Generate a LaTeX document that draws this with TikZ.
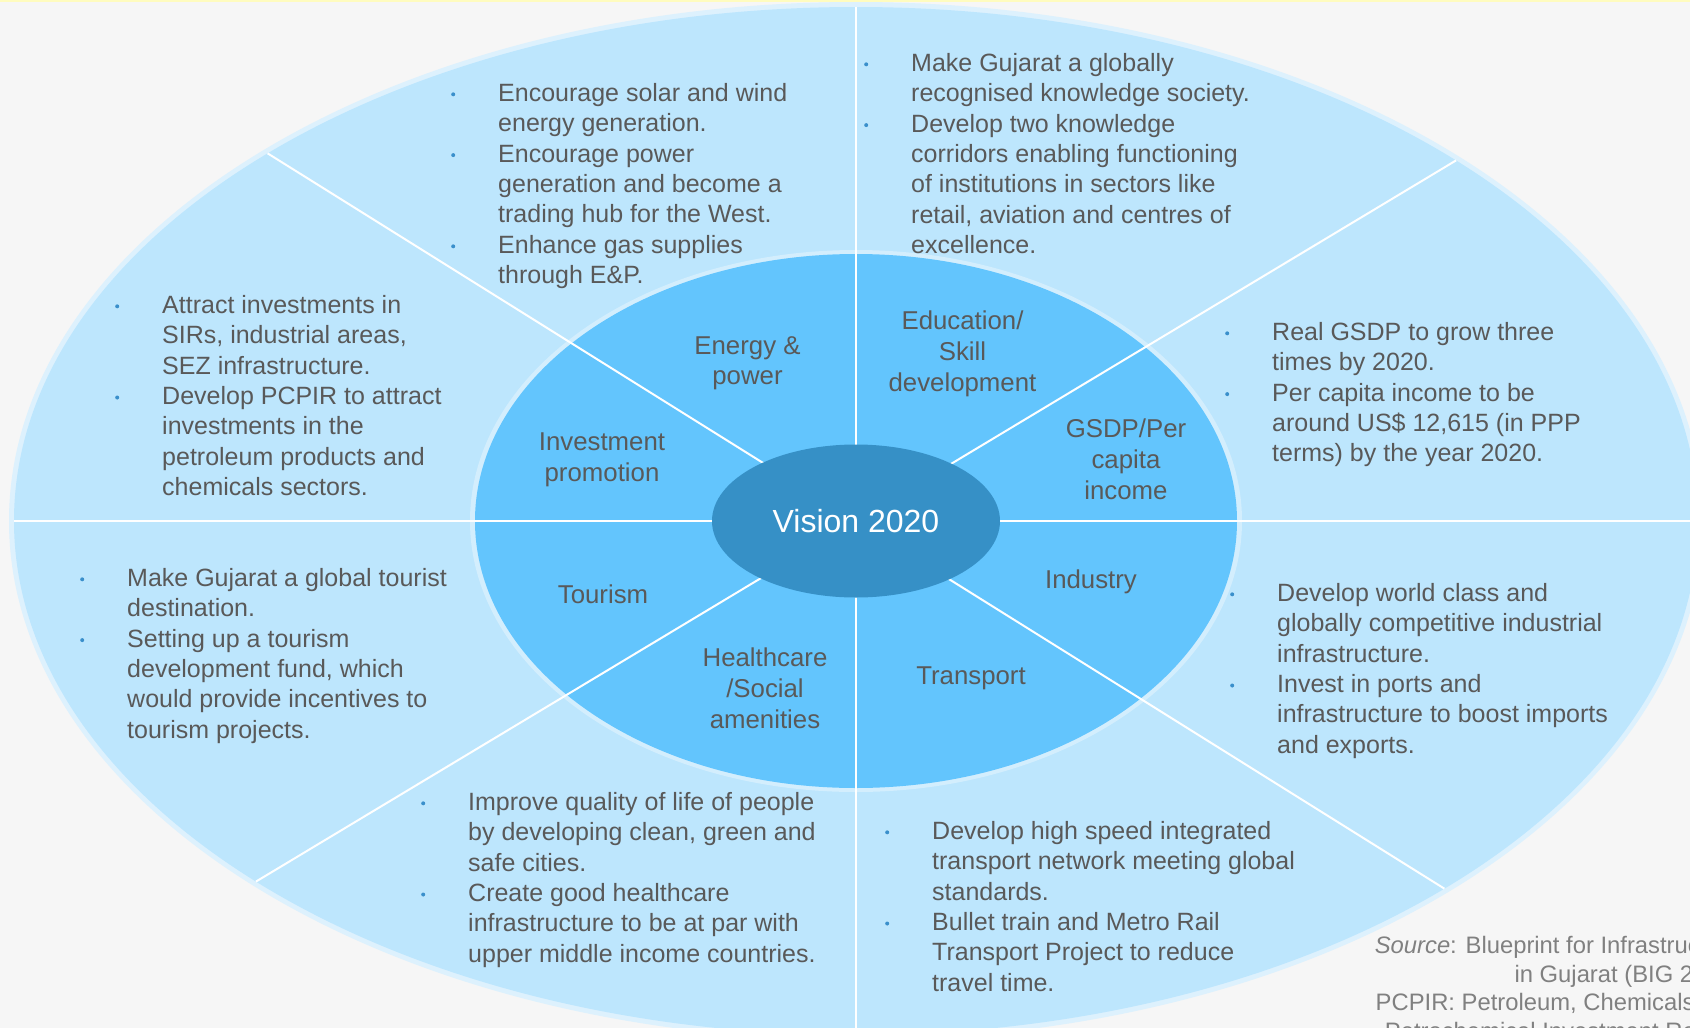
\documentclass[tikz,border=0pt]{standalone}
\usepackage{fontspec}
\setmainfont{Liberation Sans}
\usetikzlibrary{shapes.geometric}

\definecolor{bgcol}{HTML}{F6F6F6}
\definecolor{outerrimcol}{HTML}{DDF1FD}
\definecolor{outerblue}{HTML}{BDE6FD}
\definecolor{innerrimcol}{HTML}{D3EEFD}
\definecolor{innerblue}{HTML}{63C5FD}
\definecolor{coreblue}{HTML}{3690C6}
\definecolor{textgray}{HTML}{595959}
\definecolor{srcgray}{HTML}{808080}
\definecolor{bulblue}{HTML}{3A8FCB}

% small blue bullet hanging left of the text
\newcommand\bul{\makebox[0pt][r]{\tikz[baseline=0pt]\fill[bulblue] (0pt,7pt) circle (2pt);\hspace{43pt}}}

\tikzset{
  ring/.style={ellipse, inner sep=0pt, outer sep=0pt},
  spoke/.style={white, line width=2pt},
  blurb/.style={anchor=north west, inner sep=0pt, align=left, text=textgray,
    font=\fontsize{25}{30.4}\selectfont, execute at begin node=\rule{0pt}{20pt}},
  sector/.style={anchor=north, inner sep=0pt, align=center, text=textgray,
    font=\fontsize{25.8}{30.7}\selectfont, execute at begin node=\rule{0pt}{20pt}}
}

\begin{document}
\begin{tikzpicture}[x=1pt, y=-1pt]
      \useasboundingbox (0,0) rectangle (1690,1028);
      \fill[bgcol] (0,0) rectangle (1690,1028);
      \clip (0,0) rectangle (1690,1028);
      \fill[yellow!25] (0,0) rectangle (1690,2);

      % Rings
      \node[ring, fill=outerrimcol, minimum width=1694pt, minimum height=1038pt] (outerrim) at (856,521) {};
      \node[ring, fill=outerblue, minimum width=1684pt, minimum height=1028pt] (outer) at (856,521) {};
      \node[ring, fill=innerrimcol, minimum width=772pt, minimum height=542pt] (innerrim) at (856,521) {};
      \node[ring, fill=innerblue, minimum width=762pt, minimum height=534pt] (inner) at (856,521) {};

      % Spokes
      \draw[spoke] (outer.north) -- (outer.south);
      \draw[spoke] (outer.west) -- (outer.east);
      \draw[spoke] (outer.148.6) -- (outer.328.6);
      \draw[spoke] (outer.31.4) -- (outer.211.4);

      \node[ring, fill=coreblue, minimum width=288pt, minimum height=153pt, text=white,
        font=\fontsize{32}{38}\selectfont] (core) at (856,521) {Vision 2020};

      % Sectors
      \node[sector] at (747.5,336) (energy) {Energy \&\\power};
      \node[sector] at (962.5,311) (education) {Education/\\Skill\\development};
      \node[sector] at (1126,419) (gsdp) {GSDP/Per\\capita\\income};
      \node[sector] at (1091,568) (industry) {Industry};
      \node[sector] at (971,664) (transport) {Transport};
      \node[sector] at (765,648) (health) {Healthcare\\/Social\\amenities};
      \node[sector] at (603,583) (tourism) {Tourism};
      \node[sector] at (602,433) (investment) {Investment\\promotion};

      % Notes
      \node[blurb] at (498,83) (energytxt) {\bul Encourage solar and wind\\energy generation.\\\bul Encourage power\\generation and become a\\trading hub for the West.\\\bul Enhance gas supplies\\through E\&P.};
      \node[blurb] at (911,53) (educationtxt) {\bul Make Gujarat a globally\\recognised knowledge society.\\\bul Develop two knowledge\\corridors enabling functioning\\of institutions in sectors like\\retail, aviation and centres of\\excellence.};
      \node[blurb] at (1272,322) (gsdptxt) {\bul Real GSDP to grow three\\times by 2020.\\\bul Per capita income to be\\around US\$ 12,615 (in PPP\\terms) by the year 2020.};
      \node[blurb] at (1277,583) (industrytxt) {\bul Develop world class and\\globally competitive industrial\\infrastructure.\\\bul Invest in ports and\\infrastructure to boost imports\\and exports.};
      \node[blurb] at (932,821) (transporttxt) {\bul Develop high speed integrated\\transport network meeting global\\standards.\\\bul Bullet train and Metro Rail\\Transport Project to reduce\\travel time.};
      \node[blurb] at (468,792) (healthtxt) {\bul Improve quality of life of people\\by developing clean, green and\\safe cities.\\\bul Create good healthcare\\infrastructure to be at par with\\upper middle income countries.};
      \node[blurb] at (127,568) (tourismtxt) {\bul Make Gujarat a global tourist\\destination.\\\bul Setting up a tourism\\development fund, which\\would provide incentives to\\tourism projects.};
      \node[blurb] at (162,295) (investmenttxt) {\bul Attract investments in\\SIRs, industrial areas,\\SEZ infrastructure.\\\bul Develop PCPIR to attract\\investments in the\\petroleum products and\\chemicals sectors.};

      % Source
      \node[anchor=north east, inner sep=0pt, align=right, text=srcgray,
        font=\fontsize{23.8}{28.6}\selectfont, execute at begin node=\rule{0pt}{20pt}]
        at (1741,936) (source) {\textit{Source}: Blueprint for Infrastructure\\in Gujarat (BIG 2020)\\PCPIR: Petroleum, Chemicals and\\Petrochemical Investment Region};
\end{tikzpicture}
\end{document}
